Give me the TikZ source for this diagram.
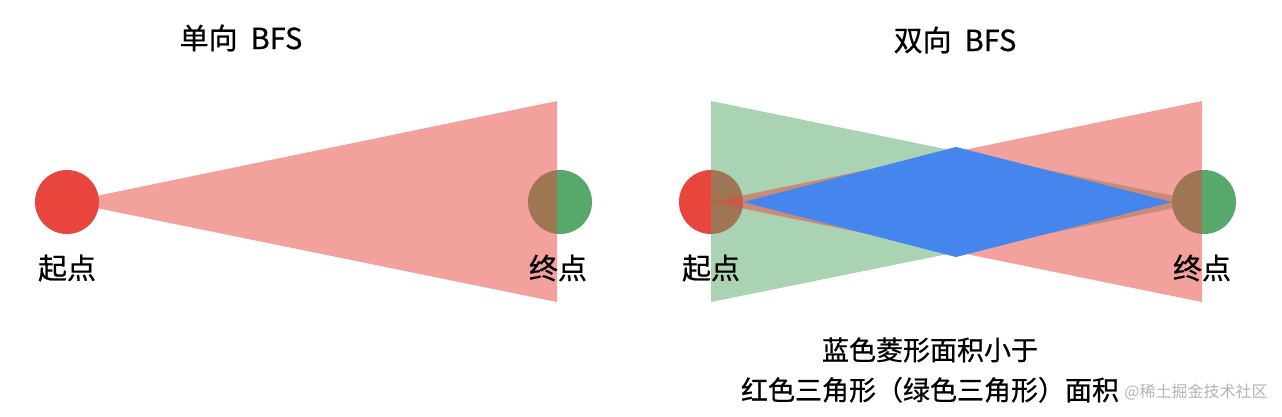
\documentclass[tikz,border=0pt]{standalone}
\usepackage{fontspec}
\newfontfamily\cjk[FakeBold=0.6]{Noto Sans CJK SC}
\newfontfamily\cjklight{Noto Sans CJK SC}
\usetikzlibrary{positioning}
\definecolor{ptred}{HTML}{E8453C}
\definecolor{ptgreen}{HTML}{57A86B}
\definecolor{diablue}{HTML}{4486EE}
\definecolor{markgray}{HTML}{B4B4B4}
\tikzset{
  point/.style={circle,minimum size=64pt,inner sep=0pt},
  ptlabel/.style={font=\cjk\fontsize{29}{32}\selectfont,inner sep=0pt},
  title/.style={font=\cjk\fontsize{29}{32}\selectfont,inner sep=0pt},
  note/.style={font=\cjk\fontsize{27}{40}\selectfont,align=center,inner sep=0pt},
}
\begin{document}
\begin{tikzpicture}[x=1pt,y=-1pt]
    \useasboundingbox[fill=white] (0,0) rectangle (1282,416);
    %% one-way search
    \node[point,fill=ptred] (s1) at (67,202) {};
    \node[point,fill=ptgreen] (t1) at (560,202) {};
    \fill[ptred,opacity=0.5] (s1.center) -- (557,101) -- (557,302) -- cycle;
    \node[ptlabel] (s1l) at (67,268) {起点};
    \node[ptlabel] (t1l) at (558,268) {终点};
    \node[title] (h1) at (241,38) {单向\ \ BFS};
    %% two-way search
    \node[point,fill=ptred] (s2) at (711,202) {};
    \node[point,fill=ptgreen] (t2) at (1204,202) {};
    \fill[ptgreen,opacity=0.5] (711,101) -- (711,302) -- (t2.center) -- cycle;
    \fill[ptred,opacity=0.5] (1202,101) -- (1202,302) -- (s2.center) -- cycle;
    \fill[diablue] (s2.east) -- (956,147) -- (t2.west) -- (956,257) -- cycle;
    \node[ptlabel] (s2l) at (711,268) {起点};
    \node[ptlabel] (t2l) at (1202,268) {终点};
    \node[title] (h2) at (955,40) {双向\ \ BFS};
    %% note
    \node[note] (n) at (930,370) {蓝色菱形面积小于\\红色三角形（绿色三角形）面积};
    \node[font=\cjklight\fontsize{16}{18}\selectfont,text=markgray,inner sep=0pt] (wm) at (1196,392) {@稀土掘金技术社区};
\end{tikzpicture}
\end{document}
